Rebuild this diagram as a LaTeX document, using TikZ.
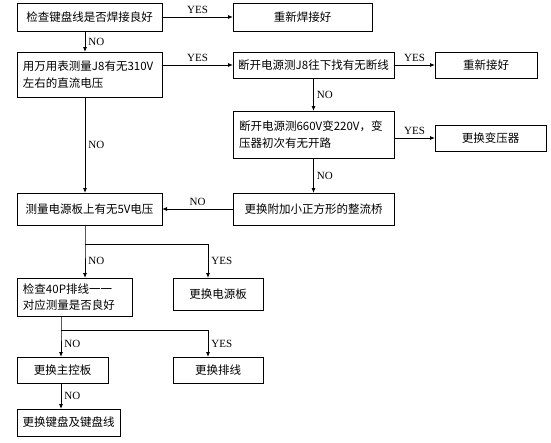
\documentclass[tikz,border=0pt]{standalone}
\usepackage{fontspec}
\setmainfont{Liberation Serif}
\newfontfamily\cjk{Noto Sans CJK SC}
\usetikzlibrary{arrows.meta}

\tikzset{
  box/.style={shape=rectangle,draw=black,line width=0.8pt,anchor=north west,inner sep=0pt,outer sep=0pt,font=\cjk\fontsize{11.5}{16.5}\selectfont},
  tbox/.style={box,align=left,inner xsep=6pt},
  link/.style={-{Latex[length=5pt,width=4pt]},line width=0.8pt},
  yn/.style={font=\fontsize{11}{13}\selectfont,inner sep=3pt}
}

\begin{document}
\begin{tikzpicture}[x=1pt,y=-1pt]
        \useasboundingbox (0,0) rectangle (551,442);

        \node[box,minimum width=145pt,minimum height=28pt] (check) at (17, 3)     {检查键盘线是否焊接良好};
        \node[box,minimum width=139pt,minimum height=28pt] (resolder) at (233, 3)     {重新焊接好};
        \node[tbox,text width=133pt,minimum height=45pt] (meter) at (17, 52)     {用万用表测量J8有无310V\\左右的直流电压};
        \node[box,minimum width=161pt,minimum height=26pt] (cut) at (233, 52)     {断开电源测J8往下找有无断线};
        \node[box,minimum width=102pt,minimum height=26pt] (rejoin) at (435, 52)     {重新接好};
        \node[tbox,text width=149pt,minimum height=47pt] (trans) at (233, 111)     {断开电源测660V变220V，变\\压器初次有无开路};
        \node[box,minimum width=111pt,minimum height=26pt] (newtrans) at (435, 125)     {更换变压器};
        \node[box,minimum width=145pt,minimum height=32pt] (fivev) at (17, 193)     {测量电源板上有无5V电压};
        \node[box,minimum width=161pt,minimum height=32pt] (bridge) at (233, 193)     {更换附加小正方形的整流桥};
        \node[tbox,text width=103pt,minimum height=38pt] (cable) at (17, 278)     {检查40P排线一一\\对应测量是否良好};
        \node[box,minimum width=90pt,minimum height=32pt] (psu) at (173, 278)     {更换电源板};
        \node[box,minimum width=91pt,minimum height=26pt] (mainboard) at (17, 357)     {更换主控板};
        \node[box,minimum width=90pt,minimum height=26pt] (newcable) at (173, 357)     {更换排线};
        \node[box,minimum width=103pt,minimum height=27pt] (keyboard) at (17, 409)     {更换键盘及键盘线};

        \coordinate (split1) at (85, 244);
        \coordinate (split2) at (61, 330);

	\path[link] (check) edge node[above,yn]{YES} (resolder);
	\path[link] ([xshift=-4.5pt]check.south) edge node[right,yn]{NO} ([xshift=-4.5pt]meter.north);
	\path[link] (meter.east |- cut) edge node[above,yn]{YES} (cut);
	\path[link] ([xshift=-4.5pt]meter.south) edge node[right,yn]{NO} ([xshift=-4.5pt]fivev.north);
	\path[link] (cut) edge node[above,yn]{YES} (rejoin);
	\path[link] (cut) edge node[right,yn]{NO} (trans);
	\path[link] (trans.east |- newtrans) edge node[above,yn]{YES} (newtrans);
	\path[link] (trans) edge node[right,yn]{NO} (bridge);
	\path[link] (bridge) edge node[above,yn]{NO} (fivev);

	\draw[link] ([xshift=-4.5pt]fivev.south) -- (split1) -- node[right,yn]{NO} (split1 |- cable.north);
	\draw[link] (split1) -| node[pos=0.75,right,yn]{YES} ([xshift=-10pt]psu.north);
	\draw[link] (split2 |- cable.south) -- (split2) -- node[right,yn]{NO} (split2 |- mainboard.north);
	\draw[link] (split2) -| node[pos=0.75,right,yn]{YES} ([xshift=-10pt]newcable.north);
	\path[link] (split2 |- mainboard.south) edge node[right,yn]{NO} (split2 |- keyboard.north);
\end{tikzpicture}
\end{document}
